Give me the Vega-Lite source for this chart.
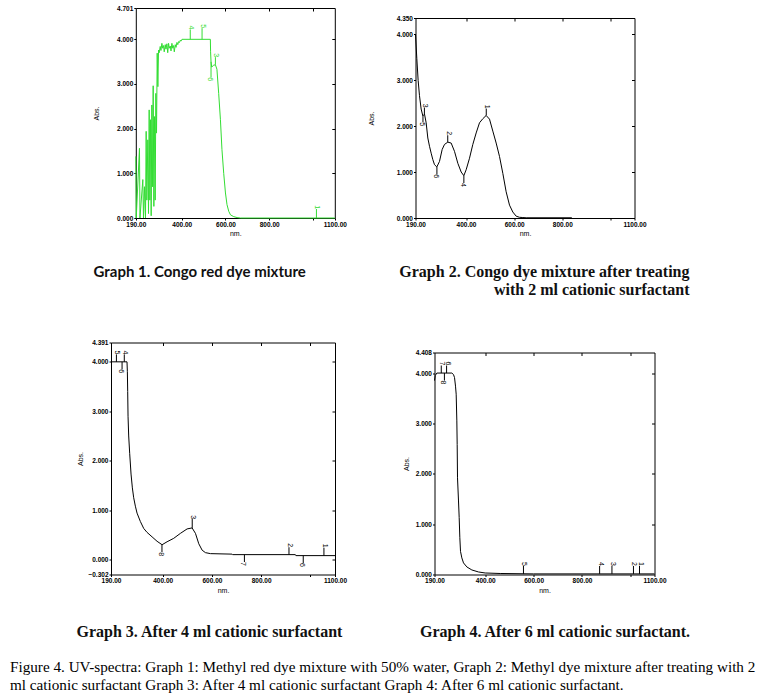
{
"$schema":"https://vega.github.io/schema/vega-lite/v6.json",
"background":"white",
"padding":{"left":10,"top":5,"right":5,"bottom":5},
"datasets":{
"s1":[{"nm":190,"a":1.38},{"nm":192,"a":0},{"nm":206.8,"a":1.56},{"nm":209,"a":0},{"nm":222.1,"a":0.86},{"nm":225.2,"a":0},{"nm":229.8,"a":0.7},{"nm":234.3,"a":0},{"nm":237.4,"a":1.94},{"nm":240.5,"a":0.4},{"nm":245,"a":1.75},{"nm":248.1,"a":0.1},{"nm":251.2,"a":2.42},{"nm":254.2,"a":0.4},{"nm":257.3,"a":2.2},{"nm":260.3,"a":0.05},{"nm":263.4,"a":2.53},{"nm":266.5,"a":0.7},{"nm":269.5,"a":2.96},{"nm":272.6,"a":0.26},{"nm":275.6,"a":2.27},{"nm":278.7,"a":0.4},{"nm":281.7,"a":2.79},{"nm":284.8,"a":1.9},{"nm":287.9,"a":3.69},{"nm":290.9,"a":2.94},{"nm":294,"a":3.76},{"nm":297,"a":3.7},{"nm":301.6,"a":3.84},{"nm":305,"a":3.75},{"nm":309.3,"a":3.91},{"nm":313,"a":3.8},{"nm":316.9,"a":3.86},{"nm":320,"a":3.72},{"nm":324.6,"a":3.88},{"nm":328,"a":3.78},{"nm":332.2,"a":3.9},{"nm":336,"a":3.7},{"nm":339.8,"a":3.91},{"nm":343,"a":3.8},{"nm":347.5,"a":3.85},{"nm":351,"a":3.74},{"nm":355.1,"a":3.91},{"nm":359,"a":3.8},{"nm":362.8,"a":3.86},{"nm":366,"a":3.72},{"nm":370.4,"a":3.88},{"nm":374,"a":3.82},{"nm":378.1,"a":3.93},{"nm":382,"a":3.88},{"nm":385.7,"a":3.95},{"nm":390,"a":3.93},{"nm":393.4,"a":3.98},{"nm":397,"a":3.96},{"nm":401,"a":4.0},{"nm":531,"a":4.0},{"nm":532,"a":3.72},{"nm":534,"a":3.5},{"nm":537,"a":3.38},{"nm":546,"a":3.42},{"nm":554,"a":3.43},{"nm":561,"a":3.33},{"nm":569,"a":2.79},{"nm":577,"a":2.2},{"nm":584,"a":1.53},{"nm":592,"a":1.0},{"nm":600,"a":0.56},{"nm":607,"a":0.3},{"nm":615,"a":0.15},{"nm":623,"a":0.07},{"nm":638,"a":0.03},{"nm":653,"a":0.01},{"nm":669,"a":0},{"nm":1100,"a":0}],
"m1":[{"nm":439,"a":4.0,"tip":4.22,"lab":"4","d":"u"},{"nm":493,"a":4.0,"tip":4.25,"lab":"5","d":"u"},{"nm":534,"a":3.5,"tip":3.15,"lab":"6","d":"d"},{"nm":554,"a":3.43,"tip":3.6,"lab":"3","d":"u"},{"nm":1016,"a":0,"tip":0.2,"lab":"1","d":"u"}],
"s2":[{"nm":190,"a":3.98},{"nm":195.5,"a":3.47},{"nm":201,"a":2.99},{"nm":206.6,"a":2.66},{"nm":213.5,"a":2.37},{"nm":220.5,"a":2.22},{"nm":227.4,"a":2.26},{"nm":234.3,"a":2.07},{"nm":241.2,"a":1.74},{"nm":248.2,"a":1.56},{"nm":255.1,"a":1.41},{"nm":262,"a":1.27},{"nm":268.9,"a":1.16},{"nm":278.6,"a":1.11},{"nm":289.7,"a":1.23},{"nm":300.8,"a":1.49},{"nm":310.5,"a":1.6},{"nm":324.3,"a":1.65},{"nm":338.2,"a":1.63},{"nm":352,"a":1.45},{"nm":365.9,"a":1.19},{"nm":379.8,"a":1.0},{"nm":390.8,"a":0.92},{"nm":400.5,"a":1.05},{"nm":414.4,"a":1.3},{"nm":428.2,"a":1.6},{"nm":442.1,"a":1.85},{"nm":455.9,"a":2.07},{"nm":469.8,"a":2.16},{"nm":483.6,"a":2.23},{"nm":497.5,"a":2.15},{"nm":511.3,"a":1.89},{"nm":525.2,"a":1.63},{"nm":539,"a":1.34},{"nm":552.9,"a":0.97},{"nm":566.7,"a":0.57},{"nm":580.6,"a":0.28},{"nm":594.4,"a":0.13},{"nm":608.3,"a":0.04},{"nm":622.1,"a":0.015},{"nm":636,"a":0.01},{"nm":649.8,"a":0.005},{"nm":839.6,"a":0.005}],
"m2":[{"nm":227,"a":2.26,"tip":2.4,"lab":"3","d":"u"},{"nm":221,"a":2.22,"tip":2.08,"lab":"5","d":"d"},{"nm":279,"a":1.11,"tip":0.95,"lab":"6","d":"d"},{"nm":324,"a":1.65,"tip":1.8,"lab":"2","d":"u"},{"nm":391,"a":0.92,"tip":0.76,"lab":"4","d":"d"},{"nm":484,"a":2.23,"tip":2.38,"lab":"1","d":"u"}],
"s3":[{"nm":190,"a":4.0},{"nm":255,"a":4.0},{"nm":256.5,"a":3.8},{"nm":257.8,"a":3.4},{"nm":259.2,"a":2.9},{"nm":261.9,"a":2.5},{"nm":265.9,"a":2.15},{"nm":271.4,"a":1.73},{"nm":276.8,"a":1.45},{"nm":282.2,"a":1.25},{"nm":289,"a":1.08},{"nm":295.8,"a":0.94},{"nm":309.3,"a":0.77},{"nm":322.9,"a":0.63},{"nm":336.4,"a":0.55},{"nm":356.8,"a":0.46},{"nm":377.1,"a":0.37},{"nm":397.5,"a":0.3},{"nm":417.8,"a":0.36},{"nm":444.9,"a":0.43},{"nm":472,"a":0.53},{"nm":499.2,"a":0.62},{"nm":519.5,"a":0.64},{"nm":533.1,"a":0.53},{"nm":546.6,"a":0.32},{"nm":560.2,"a":0.19},{"nm":573.7,"a":0.14},{"nm":594.1,"a":0.12},{"nm":682,"a":0.11},{"nm":684,"a":0.1},{"nm":939,"a":0.1},{"nm":941,"a":0.08},{"nm":1100,"a":0.08}],
"m3":[{"nm":212,"a":4.0,"tip":4.15,"lab":"5","d":"u"},{"nm":244,"a":4.0,"tip":4.15,"lab":"4","d":"u"},{"nm":235,"a":4.0,"tip":3.85,"lab":"6","d":"d"},{"nm":397,"a":0.3,"tip":0.15,"lab":"8","d":"d"},{"nm":520,"a":0.64,"tip":0.82,"lab":"3","d":"u"},{"nm":732,"a":0.1,"tip":-0.05,"lab":"7","d":"d"},{"nm":913,"a":0.1,"tip":0.25,"lab":"2","d":"u"},{"nm":971,"a":0.08,"tip":-0.07,"lab":"6","d":"d"},{"nm":1055,"a":0.08,"tip":0.24,"lab":"1","d":"u"}],
"s4":[{"nm":190,"a":3.85},{"nm":193,"a":3.95},{"nm":199.7,"a":4.0},{"nm":261.7,"a":4.0},{"nm":268.6,"a":3.97},{"nm":272.8,"a":3.91},{"nm":276.9,"a":3.74},{"nm":279.7,"a":3.58},{"nm":282.4,"a":3.05},{"nm":283.8,"a":2.58},{"nm":285.2,"a":1.92},{"nm":289.3,"a":1.46},{"nm":292.1,"a":1.13},{"nm":294.8,"a":0.73},{"nm":297.6,"a":0.46},{"nm":303.1,"a":0.33},{"nm":310,"a":0.23},{"nm":323.8,"a":0.15},{"nm":344.5,"a":0.09},{"nm":372.1,"a":0.05},{"nm":399.7,"a":0.03},{"nm":461.7,"a":0.02},{"nm":599.7,"a":0.012},{"nm":1100,"a":0.012}],
"m4":[{"nm":218,"a":4.0,"tip":4.15,"lab":"7","d":"u"},{"nm":240,"a":4.0,"tip":4.15,"lab":"6","d":"u"},{"nm":231,"a":4.0,"tip":3.85,"lab":"8","d":"d"},{"nm":558,"a":0.012,"tip":0.17,"lab":"5","d":"u"},{"nm":873,"a":0.012,"tip":0.17,"lab":"4","d":"u"},{"nm":924,"a":0.012,"tip":0.17,"lab":"3","d":"u"},{"nm":1013,"a":0.012,"tip":0.17,"lab":"2","d":"u"},{"nm":1038,"a":0.012,"tip":0.17,"lab":"1","d":"u"}]
},
"title":{"text":["Figure 4. UV-spectra: Graph 1: Methyl red dye mixture with 50% water, Graph 2: Methyl dye mixture after treating with 2","ml cationic surfactant Graph 3: After 4 ml cationic surfactant Graph 4: After 6 ml cationic surfactant."],"orient":"bottom","anchor":"start","dx":-66.5,"offset":19.5,"font":"Liberation Serif","fontSize":15.2,"fontWeight":"normal","lineHeight":18,"color":"#000"},
"columns":1,
"align":"none",
"spacing":41.5,
"concat":[
{"hconcat":[
{"width":223.8,"height":210,
"title":{"text":"Graph 1. Congo red dye mixture","orient":"bottom","anchor":"start","frame":"group","dx":-17.5,"offset":28,"font":"Lato","fontSize":15,"fontWeight":"bold","color":"#111"},
"layer":[
{"data":{"name":"s1"},"mark":{"type":"line","color":"#33dd33","strokeWidth":1},
"encoding":{
"x":{"field":"nm","type":"quantitative","scale":{"domain":[190,1100],"nice":false,"zero":false,"rangeMin":24.8},"axis":{"orient":"bottom","values":[190,400,600,800,1000,1100],"labelExpr":"datum.value == 1000 ? '' : format(datum.value, '.2f')","title":"nm."}},
"y":{"field":"a","type":"quantitative","scale":{"domain":[0,4.701],"nice":false,"zero":false},"axis":{"orient":"left","offset":-24.8,"values":[0,1,2,3,4,4.701],"format":".3f","title":"Abs.","titleX":-36.8}}}},
{"data":{"name":"m1"},"mark":{"type":"rule","color":"#33dd33","strokeWidth":1},
"encoding":{
"x":{"field":"nm","type":"quantitative","scale":{"domain":[190,1100],"nice":false,"zero":false,"rangeMin":24.8},"axis":{"orient":"top","values":[400,600,800,1000],"labels":false,"tickSize":-3,"title":null}},
"y":{"field":"a","type":"quantitative","scale":{"domain":[0,4.701],"nice":false,"zero":false},"axis":{"orient":"right","values":[1,2,3,4],"labels":false,"tickSize":-3,"title":null}},
"y2":{"field":"tip"}}},
{"data":{"name":"m1"},"transform":[{"filter":"datum.d == 'u'"}],"mark":{"type":"text","angle":90,"align":"right","baseline":"middle","dy":-1,"fontSize":7,"font":"Liberation Sans","color":"#33dd33"},
"encoding":{"x":{"field":"nm","type":"quantitative","scale":{"domain":[190,1100],"nice":false,"zero":false,"rangeMin":24.8},"axis":null},"y":{"field":"tip","type":"quantitative","scale":{"domain":[0,4.701],"nice":false,"zero":false},"axis":null},"text":{"field":"lab"}}},
{"data":{"name":"m1"},"transform":[{"filter":"datum.d == 'd'"}],"mark":{"type":"text","angle":90,"align":"left","baseline":"middle","dy":1,"fontSize":7,"font":"Liberation Sans","color":"#33dd33"},
"encoding":{"x":{"field":"nm","type":"quantitative","scale":{"domain":[190,1100],"nice":false,"zero":false,"rangeMin":24.8},"axis":null},"y":{"field":"tip","type":"quantitative","scale":{"domain":[0,4.701],"nice":false,"zero":false},"axis":null},"text":{"field":"lab"}}}
],
"resolve":{"axis":{"x":"independent","y":"independent"}}},
{"width":219,"height":210,
"title":{"text":["Graph 2. Congo dye mixture after treating","with 2 ml cationic surfactant"],"orient":"bottom","anchor":"end","align":"right","frame":"group","dx":55,"offset":27.5,"font":"Liberation Serif","fontSize":16,"fontWeight":"bold","lineHeight":18,"color":"#111"},
"layer":[
{"data":{"name":"s2"},"mark":{"type":"line","color":"#000","strokeWidth":1},
"encoding":{
"x":{"field":"nm","type":"quantitative","scale":{"domain":[190,1100],"nice":false,"zero":false},"axis":{"orient":"bottom","values":[190,400,600,800,1000,1100],"labelExpr":"datum.value == 1000 ? '' : format(datum.value, '.2f')","title":"nm."}},
"y":{"field":"a","type":"quantitative","scale":{"domain":[0,4.35],"nice":false,"zero":false,"rangeMax":10},"axis":{"orient":"left","values":[0,1,2,3,4,4.35],"format":".3f","title":"Abs.","titleX":-41}}}},
{"data":{"name":"m2"},"mark":{"type":"rule","color":"#000","strokeWidth":1},
"encoding":{
"x":{"field":"nm","type":"quantitative","scale":{"domain":[190,1100],"nice":false,"zero":false},"axis":{"orient":"top","offset":-10,"values":[400,600,800,1000],"labels":false,"tickSize":-3,"title":null}},
"y":{"field":"a","type":"quantitative","scale":{"domain":[0,4.35],"nice":false,"zero":false,"rangeMax":10},"axis":{"orient":"right","values":[1,2,3,4],"labels":false,"tickSize":-3,"title":null}},
"y2":{"field":"tip"}}},
{"data":{"name":"m2"},"transform":[{"filter":"datum.d == 'u'"}],"mark":{"type":"text","angle":90,"align":"right","baseline":"middle","dy":-1,"fontSize":7,"font":"Liberation Sans","color":"#000"},
"encoding":{"x":{"field":"nm","type":"quantitative","scale":{"domain":[190,1100],"nice":false,"zero":false},"axis":null},"y":{"field":"tip","type":"quantitative","scale":{"domain":[0,4.35],"nice":false,"zero":false,"rangeMax":10},"axis":null},"text":{"field":"lab"}}},
{"data":{"name":"m2"},"transform":[{"filter":"datum.d == 'd'"}],"mark":{"type":"text","angle":90,"align":"left","baseline":"middle","dy":1,"fontSize":7,"font":"Liberation Sans","color":"#000"},
"encoding":{"x":{"field":"nm","type":"quantitative","scale":{"domain":[190,1100],"nice":false,"zero":false},"axis":null},"y":{"field":"tip","type":"quantitative","scale":{"domain":[0,4.35],"nice":false,"zero":false,"rangeMax":10},"axis":null},"text":{"field":"lab"}}}
],
"resolve":{"axis":{"x":"independent","y":"independent"}}}
],"spacing":20.5},
{"hconcat":[
{"width":224,"height":232,
"title":{"text":"Graph 3. After 4 ml cationic surfactant","orient":"bottom","anchor":"start","frame":"group","dx":-34.5,"offset":31,"font":"Liberation Serif","fontSize":16,"fontWeight":"bold","color":"#111"},
"layer":[
{"data":{"name":"s3"},"mark":{"type":"line","color":"#000","strokeWidth":1},
"encoding":{
"x":{"field":"nm","type":"quantitative","scale":{"domain":[190,1100],"nice":false,"zero":false},"axis":{"orient":"bottom","values":[190,400,600,800,1000,1100],"labelExpr":"datum.value == 1000 ? '' : format(datum.value, '.2f')","title":"nm."}},
"y":{"field":"a","type":"quantitative","scale":{"domain":[-0.302,4.391],"nice":false,"zero":false},"axis":{"orient":"left","values":[-0.302,0,1,2,3,4,4.391],"format":".3f","title":"Abs.","titleX":-27.5}}}},
{"data":{"name":"m3"},"mark":{"type":"rule","color":"#000","strokeWidth":1},
"encoding":{
"x":{"field":"nm","type":"quantitative","scale":{"domain":[190,1100],"nice":false,"zero":false},"axis":{"orient":"top","values":[400,600,800,1000],"labels":false,"tickSize":-3,"title":null}},
"y":{"field":"a","type":"quantitative","scale":{"domain":[-0.302,4.391],"nice":false,"zero":false},"axis":{"orient":"right","values":[0,1,2,3,4],"labels":false,"tickSize":-3,"title":null}},
"y2":{"field":"tip"}}},
{"data":{"name":"m3"},"transform":[{"filter":"datum.d == 'u'"}],"mark":{"type":"text","angle":90,"align":"right","baseline":"middle","dy":-1,"fontSize":7,"font":"Liberation Sans","color":"#000"},
"encoding":{"x":{"field":"nm","type":"quantitative","scale":{"domain":[190,1100],"nice":false,"zero":false},"axis":null},"y":{"field":"tip","type":"quantitative","scale":{"domain":[-0.302,4.391],"nice":false,"zero":false},"axis":null},"text":{"field":"lab"}}},
{"data":{"name":"m3"},"transform":[{"filter":"datum.d == 'd'"}],"mark":{"type":"text","angle":90,"align":"left","baseline":"middle","dy":1,"fontSize":7,"font":"Liberation Sans","color":"#000"},
"encoding":{"x":{"field":"nm","type":"quantitative","scale":{"domain":[190,1100],"nice":false,"zero":false},"axis":null},"y":{"field":"tip","type":"quantitative","scale":{"domain":[-0.302,4.391],"nice":false,"zero":false},"axis":null},"text":{"field":"lab"}}}
],
"resolve":{"axis":{"x":"independent","y":"independent"}}},
{"width":220,"height":232,
"title":{"text":"Graph 4. After 6 ml cationic surfactant.","orient":"bottom","anchor":"middle","frame":"group","dx":10.5,"offset":31,"font":"Liberation Serif","fontSize":16,"fontWeight":"bold","color":"#111"},
"layer":[
{"data":{"name":"s4"},"mark":{"type":"line","color":"#000","strokeWidth":1},
"encoding":{
"x":{"field":"nm","type":"quantitative","scale":{"domain":[190,1100],"nice":false,"zero":false},"axis":{"orient":"bottom","values":[190,400,600,800,1000,1100],"labelExpr":"datum.value == 1000 ? '' : format(datum.value, '.2f')","title":"nm."}},
"y":{"field":"a","type":"quantitative","scale":{"domain":[0,4.408],"nice":false,"zero":false,"rangeMax":10},"axis":{"orient":"left","values":[0,1,2,3,4,4.408],"format":".3f","title":"Abs.","titleX":-25}}}},
{"data":{"name":"m4"},"mark":{"type":"rule","color":"#000","strokeWidth":1},
"encoding":{
"x":{"field":"nm","type":"quantitative","scale":{"domain":[190,1100],"nice":false,"zero":false},"axis":{"orient":"top","offset":-10,"values":[400,600,800,1000],"labels":false,"tickSize":-3,"title":null}},
"y":{"field":"a","type":"quantitative","scale":{"domain":[0,4.408],"nice":false,"zero":false,"rangeMax":10},"axis":{"orient":"right","values":[1,2,3,4],"labels":false,"tickSize":-3,"title":null}},
"y2":{"field":"tip"}}},
{"data":{"name":"m4"},"transform":[{"filter":"datum.d == 'u'"}],"mark":{"type":"text","angle":90,"align":"right","baseline":"middle","dy":-1,"fontSize":7,"font":"Liberation Sans","color":"#000"},
"encoding":{"x":{"field":"nm","type":"quantitative","scale":{"domain":[190,1100],"nice":false,"zero":false},"axis":null},"y":{"field":"tip","type":"quantitative","scale":{"domain":[0,4.408],"nice":false,"zero":false,"rangeMax":10},"axis":null},"text":{"field":"lab"}}},
{"data":{"name":"m4"},"transform":[{"filter":"datum.d == 'd'"}],"mark":{"type":"text","angle":90,"align":"left","baseline":"middle","dy":1,"fontSize":7,"font":"Liberation Sans","color":"#000"},
"encoding":{"x":{"field":"nm","type":"quantitative","scale":{"domain":[190,1100],"nice":false,"zero":false},"axis":null},"y":{"field":"tip","type":"quantitative","scale":{"domain":[0,4.408],"nice":false,"zero":false,"rangeMax":10},"axis":null},"text":{"field":"lab"}}}
],
"resolve":{"axis":{"x":"independent","y":"independent"}}}
],"spacing":55.5}
],
"config":{
"view":{"stroke":null},
"font":"Liberation Sans",
"axis":{"domainColor":"#000","domainWidth":1,"tickColor":"#000","tickWidth":1,"tickSize":2,"labelFont":"Liberation Sans","labelFontSize":6.5,"labelFontWeight":"bold","labelColor":"#000","labelPadding":1,"titleFont":"Liberation Sans","titleFontSize":7,"titleFontWeight":"normal","titleColor":"#000","titlePadding":2,"grid":false,"labelOverlap":false,"labelFlush":false}
}
}
